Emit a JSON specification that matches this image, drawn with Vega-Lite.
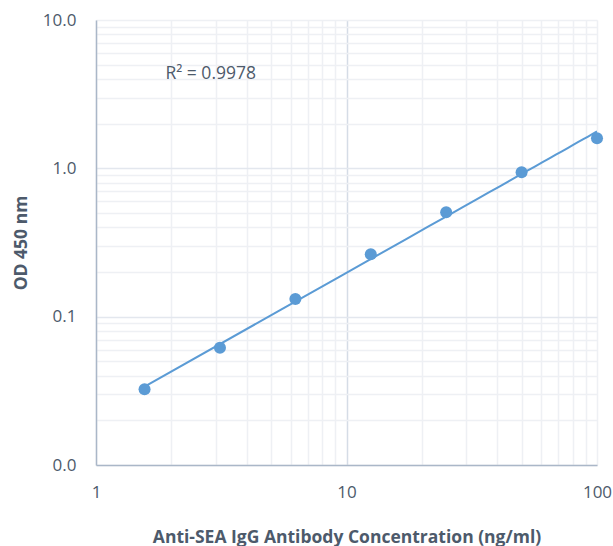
{
  "$schema": "https://vega.github.io/schema/vega-lite/v6.json",
  "width": 501,
  "height": 445,
  "autosize": "none",
  "padding": {"left": 96, "top": 20, "right": 16, "bottom": 81},
  "background": "white",
  "config": {
    "view": {"stroke": null},
    "font": "Open Sans",
    "axis": {"labelFont": "Open Sans", "titleFont": "Open Sans", "labelColor": "#4d5a6b", "titleColor": "#4d5a6b"}
  },
  "datasets": {
    "pts": [
      {"conc": 1.5625, "od": 0.0324},
      {"conc": 3.125, "od": 0.0618},
      {"conc": 6.25, "od": 0.1315},
      {"conc": 12.5, "od": 0.2633},
      {"conc": 25, "od": 0.5054},
      {"conc": 50, "od": 0.9403},
      {"conc": 100, "od": 1.594}
    ],
    "ann": [{"label": "R² = 0.9978", "conc": 2.87, "od": 4.3}]
  },
  "layer": [
    {
      "data": {"name": "pts"},
      "transform": [{"regression": "od", "on": "conc", "method": "pow", "extent": [1.5625, 100]}],
      "mark": {"type": "line", "color": "#5b9bd5", "strokeWidth": 2, "clip": true},
      "encoding": {
        "x": {
          "field": "conc", "type": "quantitative",
          "scale": {"type": "log", "domain": [1, 100], "nice": false},
          "axis": {
            "values": [1,2,3,4,5,6,7,8,9,10,20,30,40,50,60,70,80,90,100],
            "format": "d",
            "labelExpr": "(datum.value == 1 || datum.value == 10 || datum.value == 100) ? datum.label : ''",
            "labelOverlap": false,
            "labelFlush": false,
            "labelFontSize": 17,
            "labelPadding": 19,
            "ticks": false,
            "domainColor": "#aab7c8",
            "domainWidth": 1.5,
            "gridColor": {"condition": {"test": "datum.value == 10", "value": "#d5dce6"}, "value": "#eef0f4"},
            "gridWidth": 1.5,
            "title": "Anti-SEA IgG Antibody Concentration (ng/ml)",
            "titleFontSize": 17.5,
            "titleFontWeight": "bold",
            "titlePadding": 28
          }
        },
        "y": {
          "field": "od", "type": "quantitative",
          "scale": {"type": "log", "domain": [0.01, 10], "nice": false},
          "axis": {
            "values": [0.01,0.02,0.03,0.04,0.05,0.06,0.07,0.08,0.09,0.1,0.2,0.3,0.4,0.5,0.6,0.7,0.8,0.9,1,2,3,4,5,6,7,8,9,10],
            "format": ".1f",
            "labelExpr": "(abs(datum.value - 0.01) < 1e-9 || abs(datum.value - 0.1) < 1e-9 || abs(datum.value - 1) < 1e-9 || abs(datum.value - 10) < 1e-9) ? datum.label : ''",
            "labelOverlap": false,
            "labelFlush": false,
            "labelFontSize": 17,
            "labelPadding": 20,
            "ticks": false,
            "domainColor": "#aab7c8",
            "domainWidth": 1.5,
            "gridColor": {"condition": {"test": "abs(datum.value - 0.1) < 1e-9 || abs(datum.value - 1) < 1e-9", "value": "#e3e7ee"}, "value": "#eef0f4"},
            "gridWidth": 1.5,
            "title": "OD 450 nm",
            "titleFontSize": 17.5,
            "titleFontWeight": "bold",
            "titlePadding": 12
          }
        }
      }
    },
    {
      "data": {"name": "pts"},
      "mark": {"type": "circle", "size": 145, "color": "#5b9bd5", "opacity": 1},
      "encoding": {
        "x": {"field": "conc", "type": "quantitative"},
        "y": {"field": "od", "type": "quantitative"}
      }
    },
    {
      "data": {"name": "ann"},
      "mark": {"type": "text", "fontSize": 17.5, "color": "#4d5a6b", "align": "center", "baseline": "middle", "font": "Open Sans"},
      "encoding": {
        "x": {"field": "conc", "type": "quantitative"},
        "y": {"field": "od", "type": "quantitative"},
        "text": {"field": "label"}
      }
    }
  ]
}
